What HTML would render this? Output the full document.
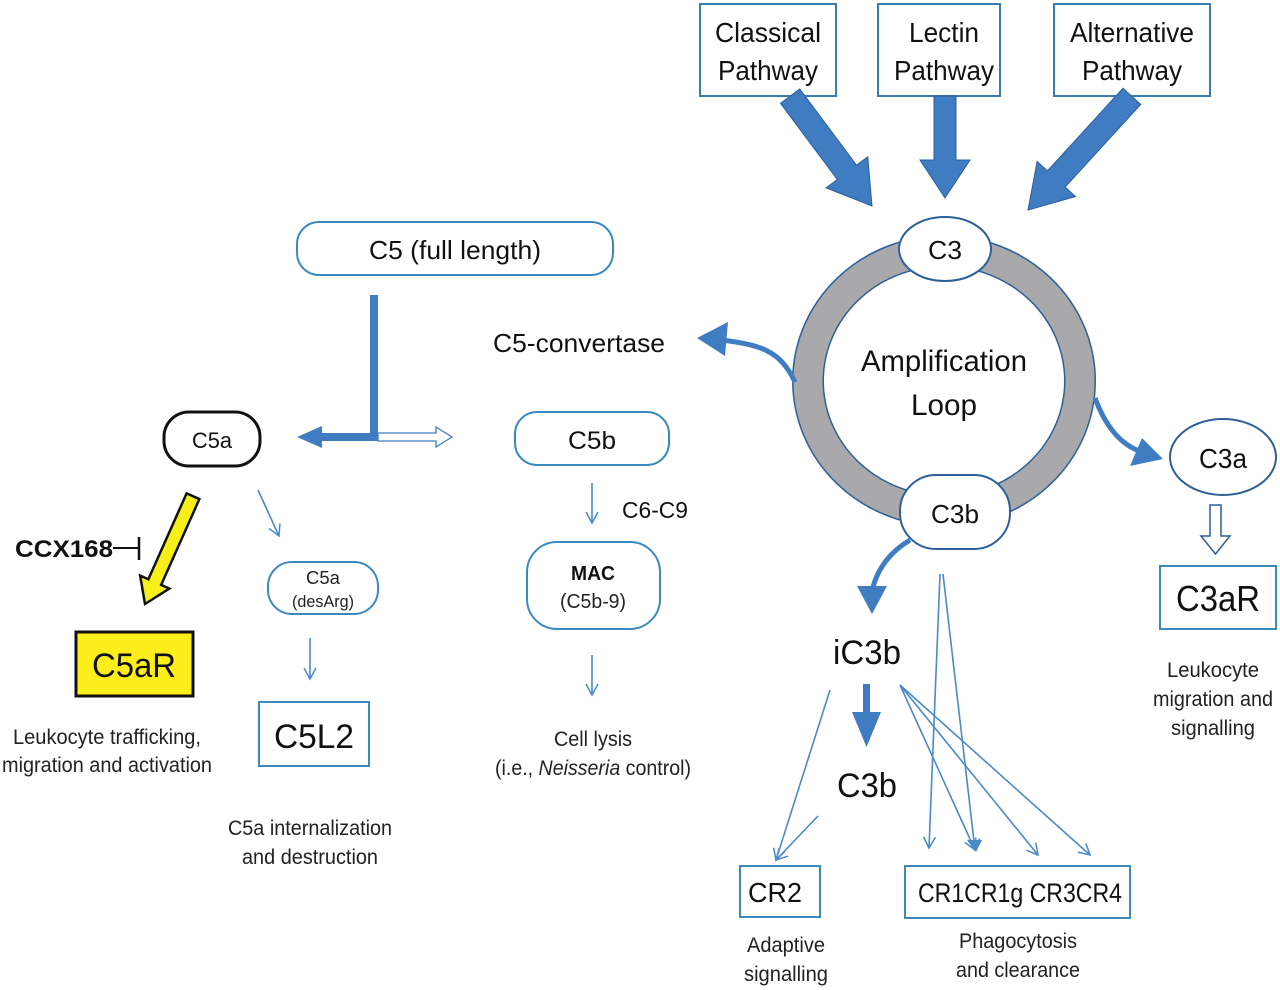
<!DOCTYPE html>
<html><head><meta charset="utf-8"><style>
html,body{margin:0;padding:0;background:#fff;}
svg{display:block;font-family:"Liberation Sans",Arial,sans-serif;}
</style></head><body>
<svg width="1280" height="990" viewBox="0 0 1280 990" xmlns="http://www.w3.org/2000/svg">
<defs>
<marker id="thin" markerWidth="14" markerHeight="14" refX="12" refY="7" orient="auto" markerUnits="userSpaceOnUse">
<path d="M1,1 L12,7 L1,13" fill="none" stroke="#4a8ac8" stroke-width="1.5"/>
</marker>
</defs>
<rect width="1280" height="990" fill="#fff"/>

<g fill="#fff" stroke="#3a7cb0" stroke-width="2">
<rect x="700" y="4" width="136" height="92"/>
<rect x="878" y="4" width="122" height="92"/>
<rect x="1054" y="4" width="156" height="92"/>
</g>
<g font-size="28" text-anchor="middle" fill="#111" lengthAdjust="spacingAndGlyphs">
<text x="768" y="42" textLength="106" lengthAdjust="spacingAndGlyphs">Classical</text><text x="768" y="80" textLength="100" lengthAdjust="spacingAndGlyphs">Pathway</text>
<text x="944" y="42" textLength="70" lengthAdjust="spacingAndGlyphs">Lectin</text><text x="944" y="80" textLength="100" lengthAdjust="spacingAndGlyphs">Pathway</text>
<text x="1132" y="42" textLength="124" lengthAdjust="spacingAndGlyphs">Alternative</text><text x="1132" y="80" textLength="100" lengthAdjust="spacingAndGlyphs">Pathway</text>
</g>

<g fill="#3f7cc2" stroke="#2d5f98" stroke-width="1">
<g transform="translate(872,206) rotate(53.3)"><polygon points="0,0 -42,-26 -42,-12 -137,-12 -137,12 -42,12 -42,26"/></g>
<g transform="translate(945,198) rotate(90)"><polygon points="0,0 -38,-25 -38,-11 -102,-11 -102,11 -38,11 -38,25"/></g>
<g transform="translate(1028,210) rotate(132.4)"><polygon points="0,0 -42,-26 -42,-12 -154,-12 -154,12 -42,12 -42,26"/></g>
</g>

<ellipse cx="944" cy="381" rx="136" ry="130" fill="none" stroke="#2d5f98" stroke-width="32"/>
<ellipse cx="944" cy="381" rx="136" ry="130" fill="none" stroke="#a9a9ab" stroke-width="29"/>
<text x="944" y="371" font-size="30" text-anchor="middle" fill="#111" textLength="166" lengthAdjust="spacingAndGlyphs">Amplification</text>
<text x="944" y="415" font-size="30" text-anchor="middle" fill="#111" textLength="66" lengthAdjust="spacingAndGlyphs">Loop</text>
<ellipse cx="945" cy="249" rx="46" ry="32" fill="#fff" stroke="#2d5f98" stroke-width="2"/>
<text x="945" y="259" font-size="26" text-anchor="middle" fill="#111" textLength="34" lengthAdjust="spacingAndGlyphs">C3</text>
<rect x="900" y="475" width="110" height="74" rx="36" fill="#fff" stroke="#2d5f98" stroke-width="2"/>
<text x="955" y="523" font-size="26" text-anchor="middle" fill="#111" textLength="48" lengthAdjust="spacingAndGlyphs">C3b</text>

<path d="M795,382 C780,350 760,345 722,340" fill="none" stroke="#3f7cc2" stroke-width="5"/>
<polygon points="697,338 728,322 725,356" fill="#3f7cc2"/>
<text x="493" y="352" font-size="26" fill="#111" textLength="172" lengthAdjust="spacingAndGlyphs">C5-convertase</text>

<path d="M1095,398 C1105,425 1120,445 1142,452" fill="none" stroke="#3f7cc2" stroke-width="5"/>
<polygon points="1163,459 1130,466 1142,438" fill="#3f7cc2"/>
<ellipse cx="1223" cy="457" rx="53" ry="38" fill="#fff" stroke="#2d5f98" stroke-width="2"/>
<text x="1223" y="468" font-size="28" text-anchor="middle" fill="#111" textLength="48" lengthAdjust="spacingAndGlyphs">C3a</text>
<polygon points="1210,505 1221,505 1221,536 1230,536 1215.5,554 1201,536 1210,536" fill="#fff" stroke="#2d5f98" stroke-width="1.5"/>
<rect x="1160" y="566" width="116" height="63" fill="#fff" stroke="#3a8ac0" stroke-width="2"/>
<text x="1218" y="611" font-size="36" text-anchor="middle" fill="#111" textLength="84" lengthAdjust="spacingAndGlyphs">C3aR</text>
<g font-size="21" text-anchor="middle" fill="#222">
<text x="1213" y="677" textLength="92" lengthAdjust="spacingAndGlyphs">Leukocyte</text><text x="1213" y="706" textLength="120" lengthAdjust="spacingAndGlyphs">migration and</text><text x="1213" y="735" textLength="84" lengthAdjust="spacingAndGlyphs">signalling</text>
</g>

<path d="M910,540 C890,552 876,570 872,592" fill="none" stroke="#3f7cc2" stroke-width="5"/>
<polygon points="872,614 857,586 887,586" fill="#3f7cc2"/>
<text x="867" y="664" font-size="34" text-anchor="middle" fill="#111" textLength="68" lengthAdjust="spacingAndGlyphs">iC3b</text>
<rect x="863" y="684" width="7" height="30" fill="#3f7cc2"/>
<polygon points="852,712 881,712 866.5,747" fill="#3f7cc2"/>
<text x="867" y="797" font-size="34" text-anchor="middle" fill="#111" textLength="60" lengthAdjust="spacingAndGlyphs">C3b</text>

<g stroke="#4a8ac8" stroke-width="1.6" fill="none" marker-end="url(#thin)">
<line x1="830" y1="690" x2="776" y2="860"/>
<line x1="818" y1="816" x2="776" y2="860"/>
<line x1="940" y1="574" x2="929" y2="848"/>
<line x1="943" y1="574" x2="975" y2="850"/>
<line x1="900" y1="685" x2="975" y2="850"/>
<line x1="900" y1="685" x2="1038" y2="855"/>
<line x1="900" y1="685" x2="1090" y2="855"/>
</g>
<polygon points="968,840 982,840 976,852" fill="#4a8ac8"/>
<rect x="740" y="866" width="80" height="51" fill="#fff" stroke="#3a8ac0" stroke-width="2"/>
<text x="775" y="902" font-size="28" text-anchor="middle" fill="#111" textLength="54" lengthAdjust="spacingAndGlyphs">CR2</text>
<rect x="905" y="866" width="225" height="52" fill="#fff" stroke="#3a8ac0" stroke-width="2"/>
<text x="1020" y="902" font-size="27" text-anchor="middle" fill="#111" textLength="204" lengthAdjust="spacingAndGlyphs">CR1CR1g CR3CR4</text>
<g font-size="21" text-anchor="middle" fill="#222">
<text x="786" y="952" textLength="78" lengthAdjust="spacingAndGlyphs">Adaptive</text><text x="786" y="981" textLength="84" lengthAdjust="spacingAndGlyphs">signalling</text>
<text x="1018" y="948" textLength="118" lengthAdjust="spacingAndGlyphs">Phagocytosis</text><text x="1018" y="977" textLength="124" lengthAdjust="spacingAndGlyphs">and clearance</text>
</g>

<rect x="297" y="222" width="316" height="53" rx="22" fill="#fff" stroke="#3a8ac0" stroke-width="2"/>
<text x="455" y="259" font-size="26" text-anchor="middle" fill="#111" textLength="172" lengthAdjust="spacingAndGlyphs">C5 (full length)</text>
<rect x="370" y="295" width="8" height="145" fill="#3f7cc2"/>
<rect x="318" y="433" width="60" height="8" fill="#3f7cc2"/>
<polygon points="297,437 322,426 322,448" fill="#3f7cc2"/>
<polygon points="378,433 436,433 436,427 452,437 436,447 436,441 378,441" fill="#fff" stroke="#3f7cc2" stroke-width="1.3"/>

<rect x="164" y="412" width="96" height="54" rx="25" fill="#fff" stroke="#111" stroke-width="3"/>
<text x="212" y="448" font-size="22" text-anchor="middle" fill="#111" textLength="40" lengthAdjust="spacingAndGlyphs">C5a</text>
<g transform="translate(145,604) rotate(114)"><polygon points="0,0 -24,-16 -24,-7 -118,-7 -118,7 -24,7 -24,16" fill="#f7ef1a" stroke="#111" stroke-width="2.5"/></g>
<text x="15" y="557" font-size="24" font-weight="bold" fill="#111" textLength="98" lengthAdjust="spacingAndGlyphs">CCX168</text>
<line x1="113" y1="548" x2="139" y2="548" stroke="#111" stroke-width="2"/>
<line x1="139" y1="537" x2="139" y2="560" stroke="#111" stroke-width="2.5"/>
<rect x="76" y="632" width="117" height="64" fill="#fbee1a" stroke="#111" stroke-width="3"/>
<text x="134" y="677" font-size="34" text-anchor="middle" fill="#111" textLength="84" lengthAdjust="spacingAndGlyphs">C5aR</text>
<g font-size="21" text-anchor="middle" fill="#222">
<text x="107" y="744" textLength="188" lengthAdjust="spacingAndGlyphs">Leukocyte trafficking,</text><text x="107" y="772" textLength="210" lengthAdjust="spacingAndGlyphs">migration and activation</text>
</g>
<g stroke="#4a8ac8" stroke-width="1.6" fill="none" marker-end="url(#thin)">
<line x1="258" y1="490" x2="279" y2="536"/>
<line x1="310" y1="638" x2="310" y2="679"/>
<line x1="592" y1="483" x2="592" y2="523"/>
<line x1="592" y1="655" x2="592" y2="695"/>
</g>
<rect x="268" y="562" width="110" height="52" rx="24" fill="#fff" stroke="#3a8ac0" stroke-width="2"/>
<text x="323" y="584" font-size="18" text-anchor="middle" fill="#222" textLength="34" lengthAdjust="spacingAndGlyphs">C5a</text>
<text x="323" y="607" font-size="17" text-anchor="middle" fill="#222" textLength="62" lengthAdjust="spacingAndGlyphs">(desArg)</text>
<rect x="259" y="702" width="110" height="64" fill="#fff" stroke="#3a8ac0" stroke-width="2"/>
<text x="314" y="748" font-size="34" text-anchor="middle" fill="#111" textLength="80" lengthAdjust="spacingAndGlyphs">C5L2</text>
<g font-size="21" text-anchor="middle" fill="#222">
<text x="310" y="835" textLength="164" lengthAdjust="spacingAndGlyphs">C5a internalization</text><text x="310" y="864" textLength="136" lengthAdjust="spacingAndGlyphs">and destruction</text>
</g>

<rect x="515" y="412" width="154" height="53" rx="22" fill="#fff" stroke="#3a8ac0" stroke-width="2"/>
<text x="592" y="449" font-size="25" text-anchor="middle" fill="#111" textLength="48" lengthAdjust="spacingAndGlyphs">C5b</text>
<text x="622" y="518" font-size="23" fill="#111" textLength="66" lengthAdjust="spacingAndGlyphs">C6-C9</text>
<rect x="527" y="542" width="133" height="87" rx="30" fill="#fff" stroke="#3a8ac0" stroke-width="2"/>
<text x="593" y="580" font-size="20" font-weight="bold" text-anchor="middle" fill="#111" textLength="44" lengthAdjust="spacingAndGlyphs">MAC</text>
<text x="593" y="608" font-size="20" text-anchor="middle" fill="#222" textLength="66" lengthAdjust="spacingAndGlyphs">(C5b-9)</text>
<g font-size="21" text-anchor="middle" fill="#222">
<text x="593" y="746" textLength="78" lengthAdjust="spacingAndGlyphs">Cell lysis</text>
<text x="593" y="775" textLength="196" lengthAdjust="spacingAndGlyphs">(i.e., <tspan font-style="italic">Neisseria</tspan> control)</text>
</g>
</svg>
</body></html>
